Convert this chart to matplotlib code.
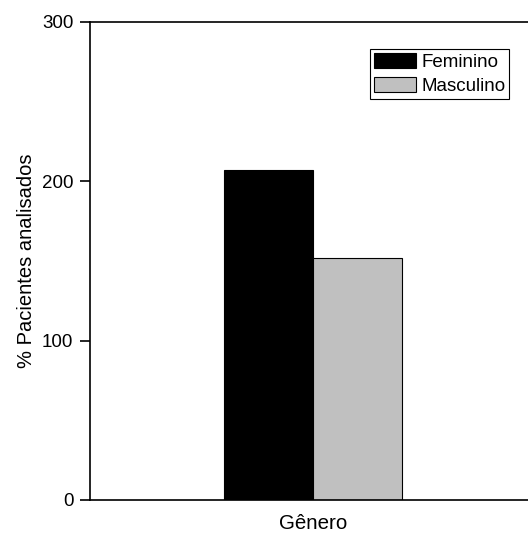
import matplotlib
matplotlib.use("Agg")
import matplotlib.pyplot as plt

# data
groups = ["Feminino", "Masculino"]
values = [207, 152]
colors = ["#000000", "#c0c0c0"]
yticks = [0, 100, 200, 300]

plt.rcParams["font.family"] = ["Liberation Sans", "DejaVu Sans"]
plt.rcParams["font.size"] = 13.5

fig = plt.figure(figsize=(5.28, 5.34), dpi=100)
ax = fig.add_axes([90 / 528, 1 - 500 / 534, 446 / 528, 478 / 534])

offsets = [-0.1, 0.1]
for g, v, c, o in zip(groups, values, colors, offsets):
    ax.bar(o, v, width=0.2, color=c, edgecolor="black", linewidth=0.8, label=g)

ax.set_xlim(-0.5, 0.5)
ax.set_ylim(0, 300)
ax.set_yticks(yticks)
ax.set_xticks([])
ax.set_xlabel("Gênero", fontsize=14.8, labelpad=10)
ax.set_ylabel("% Pacientes analisados", fontsize=14.5, labelpad=4)
ax.spines["right"].set_visible(False)
for s in ["left", "bottom", "top"]:
    ax.spines[s].set_linewidth(1.2)
ax.tick_params(axis="y", direction="out", length=7, width=1.2, pad=5)

leg = ax.legend(loc="upper left", bbox_to_anchor=((370 - 90) / 446, 1 - (49 - 22) / 478),
                frameon=True, fancybox=False, edgecolor="black", framealpha=1,
                borderpad=0.2, handlelength=2.25, handleheight=0.9,
                handletextpad=0.3, labelspacing=0.3, borderaxespad=0)
leg.get_frame().set_linewidth(0.8)

fig.savefig("out.png", dpi=100)
